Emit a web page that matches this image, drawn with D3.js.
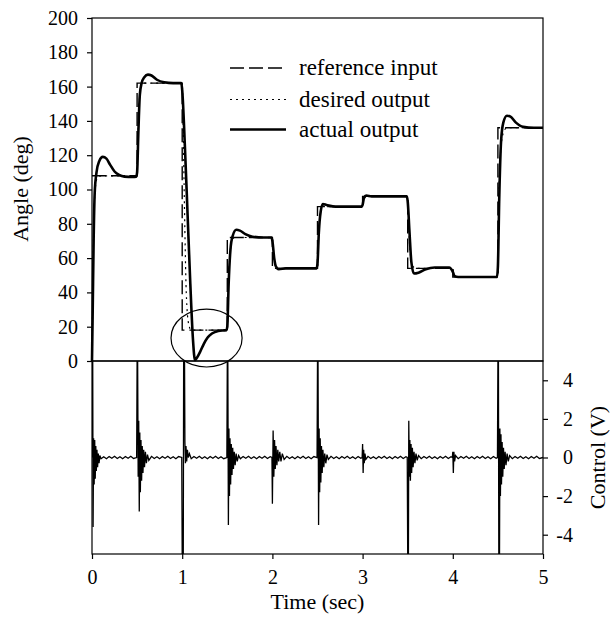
<!DOCTYPE html>
<html>
<head>
<meta charset="utf-8">
<script src="https://cdn.jsdelivr.net/npm/d3@7"></script>
<style>
  body { margin: 0; background: #fff; }
  text { font-family: "Liberation Serif", "Times New Roman", serif; fill: #000; }
</style>
</head>
<body>
<svg id="chart" width="615" height="624"></svg>
<script>
// values
const timeTicks = [0, 1, 2, 3, 4, 5]
const angleTicks = [0, 20, 40, 60, 80, 100, 120, 140, 160, 180, 200]
const controlTicks = [-4, -2, 0, 2, 4]
const legendLabels = ["reference input", "desired output", "actual output"]

// step reference [time, angle]
const refInput = [[0,108],[0.5,162],[1,18],[1.5,72],[2,54],[2.5,90],[3,96],[3.5,54],[4,49],[4.5,136],[5,136]]

const desiredOutput = [[0,0],[0.01,45],[0.02,80],[0.035,100],[0.06,107],[0.1,108],[0.5,108],[0.51,130],[0.525,152],[0.545,160],[0.58,162],
  [1.0,162],[1.01,140],[1.025,90],[1.045,40],[1.07,22],[1.1,18],[1.5,18],[1.51,40],[1.53,62],[1.55,70],[1.58,72],
  [2.0,72],[2.01,64],[2.03,56],[2.06,54],[2.5,54],[2.51,70],[2.53,85],[2.56,90],[3.0,90],[3.01,93],[3.03,95.5],[3.06,96],
  [3.5,96],[3.51,80],[3.53,62],[3.56,55],[3.6,54],[4.0,54],[4.01,51],[4.04,49],[4.5,49],[4.51,90],[4.53,122],[4.56,133],[4.6,136],[5,136]]

const actualOutput = [[0,0],[0.008,30],[0.018,70],[0.03,98],[0.05,110],[0.08,116.5],[0.12,119],[0.16,118],[0.2,114.5],[0.25,110.5],[0.3,108.5],[0.36,107.5],[0.45,107.3],[0.49,107.5],
  [0.5,110],[0.515,135],[0.53,155],[0.55,162],[0.58,165.5],[0.62,167],[0.66,166.5],[0.72,164],[0.8,162.5],[0.9,162],[0.99,162],
  [1.0,158],[1.03,125],[1.06,85],[1.09,45],[1.12,12],[1.142,0.5],[1.165,2],[1.2,5.5],[1.24,10],[1.28,13.5],[1.33,16],[1.4,17.5],[1.49,18],
  [1.5,20],[1.515,45],[1.535,65],[1.56,73],[1.6,76.5],[1.64,76],[1.7,74],[1.78,72.5],[1.9,72],[1.99,72],
  [2.0,70],[2.02,60],[2.04,55],[2.07,53.5],[2.15,54],[2.49,54],
  [2.5,57],[2.515,75],[2.535,87],[2.56,91.5],[2.6,91],[2.7,90],[2.99,90],
  [3.0,91],[3.015,95],[3.04,96.5],[3.1,96],[3.49,96],
  [3.5,93],[3.52,75],[3.54,58],[3.57,51],[3.62,51.5],[3.7,53.5],[3.8,54.5],[3.96,54.5],
  [4.0,52],[4.02,49.5],[4.06,49],[4.49,49],
  [4.5,55],[4.515,95],[4.535,128],[4.56,139],[4.6,143],[4.64,142.5],[4.7,139],[4.78,136.5],[4.9,136],[5,136]]

// control voltage [time, volts]
const control = [
  [0,0],[0.003,5],[0.008,5],[0.012,-3.6],[0.018,1.0],[0.024,-1.4],[0.03,0.9],[0.036,-1.1],[0.042,0.6],[0.048,-0.7],[0.055,0.4],[0.062,-0.5],[0.07,0.2],[0.078,-0.3],[0.087,0.1],[0.1,-0.06],[0.13,0.04],[0.16,-0.06],[0.19,0.05],[0.22,-0.04],[0.25,0.06],[0.28,-0.05],[0.31,0.04],[0.34,-0.06],[0.37,0.05],[0.4,-0.04],[0.43,0.06],[0.46,-0.05],[0.495,0],
  [0.5,5],[0.506,5],[0.512,-1.0],[0.518,1.9],[0.524,-2.8],[0.53,1.3],[0.536,-1.8],[0.543,0.9],[0.55,-1.2],[0.557,0.6],[0.565,-0.8],[0.573,0.4],[0.582,-0.5],[0.592,0.3],[0.603,-0.3],[0.615,0.15],[0.63,-0.15],[0.66,0.06],[0.69,-0.05],[0.72,0.04],[0.75,-0.06],[0.78,0.05],[0.81,-0.04],[0.84,0.06],[0.87,-0.05],[0.9,0.04],[0.93,-0.06],[0.96,0.05],[0.995,0],
  [1.0,-5],[1.012,-5],[1.016,5],[1.026,5],[1.03,0.8],[1.036,-0.3],[1.042,0.6],[1.05,-0.2],[1.058,0.4],[1.068,0],[1.08,0.2],[1.1,-0.06],[1.13,0.05],[1.16,-0.04],[1.19,0.06],[1.22,-0.05],[1.25,0.04],[1.28,-0.06],[1.31,0.05],[1.34,-0.04],[1.37,0.06],[1.4,-0.05],[1.43,0.04],[1.46,-0.06],[1.495,0],
  [1.5,5],[1.506,5],[1.512,-3.5],[1.518,1.5],[1.524,-2.0],[1.53,1.0],[1.537,-1.4],[1.544,0.7],[1.552,-0.9],[1.56,0.5],[1.568,-0.6],[1.577,0.3],[1.587,-0.4],[1.598,0.2],[1.61,-0.2],[1.625,0.1],[1.645,-0.06],[1.675,0.05],[1.705,-0.04],[1.735,0.06],[1.765,-0.05],[1.795,0.04],[1.825,-0.06],[1.855,0.05],[1.885,-0.04],[1.915,0.06],[1.945,-0.05],[1.975,0.04],[1.995,0],
  [2.0,-2.4],[2.008,1.4],[2.016,-1.0],[2.024,0.9],[2.032,-0.6],[2.04,0.6],[2.05,-0.4],[2.06,0.4],[2.07,-0.2],[2.082,0.3],[2.095,-0.2],[2.11,0.2],[2.13,-0.1],[2.16,0.06],[2.19,-0.05],[2.22,0.04],[2.25,-0.06],[2.28,0.05],[2.31,-0.04],[2.34,0.06],[2.37,-0.05],[2.4,0.04],[2.43,-0.06],[2.46,0.05],[2.495,0],
  [2.5,5],[2.506,5],[2.512,-3.5],[2.518,1.5],[2.524,-1.8],[2.53,1.0],[2.537,-1.3],[2.544,0.6],[2.552,-0.8],[2.56,0.4],[2.57,-0.5],[2.58,0.2],[2.592,-0.3],[2.605,0.15],[2.62,-0.1],[2.65,0.06],[2.68,-0.05],[2.71,0.04],[2.74,-0.06],[2.77,0.05],[2.8,-0.04],[2.83,0.06],[2.86,-0.05],[2.89,0.04],[2.92,-0.06],[2.95,0.05],[2.98,-0.04],[2.995,0],
  [3.0,0.7],[3.006,-0.8],[3.012,0.4],[3.018,-0.3],[3.026,0.2],[3.036,-0.1],[3.06,0.06],[3.09,-0.05],[3.12,0.04],[3.15,-0.06],[3.18,0.05],[3.21,-0.04],[3.24,0.06],[3.27,-0.05],[3.3,0.04],[3.33,-0.06],[3.36,0.05],[3.39,-0.04],[3.42,0.06],[3.45,-0.05],[3.48,0.04],[3.495,0],
  [3.5,-5],[3.508,-5],[3.512,1.9],[3.518,-1.0],[3.524,0.9],[3.53,-1.2],[3.537,0.7],[3.544,-0.8],[3.552,0.5],[3.56,-0.5],[3.57,0.3],[3.58,-0.3],[3.592,0.2],[3.605,-0.15],[3.62,0.1],[3.65,-0.06],[3.68,0.05],[3.71,-0.04],[3.74,0.06],[3.77,-0.05],[3.8,0.04],[3.83,-0.06],[3.86,0.05],[3.89,-0.04],[3.92,0.06],[3.95,-0.05],[3.98,0.04],[3.995,0],
  [4.0,0.3],[4.006,-0.8],[4.012,0.3],[4.02,-0.2],[4.03,0.1],[4.06,-0.06],[4.09,0.05],[4.12,-0.04],[4.15,0.06],[4.18,-0.05],[4.21,0.04],[4.24,-0.06],[4.27,0.05],[4.3,-0.04],[4.33,0.06],[4.36,-0.05],[4.39,0.04],[4.42,-0.06],[4.45,0.05],[4.48,-0.04],[4.495,0],
  [4.5,5],[4.506,5],[4.51,-5],[4.518,-5],[4.522,1.5],[4.528,-2.0],[4.534,1.2],[4.54,-1.4],[4.547,0.8],[4.554,-1.0],[4.562,0.5],[4.57,-0.6],[4.58,0.3],[4.59,-0.4],[4.602,0.2],[4.615,-0.2],[4.63,0.1],[4.66,-0.06],[4.69,0.05],[4.72,-0.04],[4.75,0.06],[4.78,-0.05],[4.81,0.04],[4.84,-0.06],[4.87,0.05],[4.9,-0.04],[4.93,0.06],[4.96,-0.05],[5,0]
]

// circled region in data units: centre time, centre angle, half-width (s), half-height (deg)
const highlight = { t: 1.27, a: 13.4, dt: 0.394, da: 16.9 }

const svg = d3.select("#chart")
const plotLeft = 92, plotRight = 543, plotTop = 18, plotMid = 361, plotBottom = 554

const x = d3.scaleLinear().domain([0, 5]).range([plotLeft, plotRight])
const yAngle = d3.scaleLinear().domain([0, 200]).range([plotMid, plotTop])
const yCtrl = d3.scaleLinear().domain([-5, 5]).range([plotBottom, plotMid])

// frames
svg.append("rect").attr("x", plotLeft).attr("y", plotTop).attr("width", plotRight - plotLeft).attr("height", plotMid - plotTop)
  .attr("fill", "none").attr("stroke", "#000").attr("stroke-width", 1.2)
svg.append("rect").attr("x", plotLeft).attr("y", plotMid).attr("width", plotRight - plotLeft).attr("height", plotBottom - plotMid)
  .attr("fill", "none").attr("stroke", "#000").attr("stroke-width", 1.2)

// axes
let yAxis = svg.append("g").attr("transform", `translate(${plotLeft},0)`)
  .call(d3.axisLeft(yAngle).tickValues(angleTicks).tickSize(5).tickPadding(9).tickFormat(d => String(d)))
let cAxis = svg.append("g").attr("transform", `translate(${plotRight},0)`)
  .call(d3.axisRight(yCtrl).tickValues(controlTicks).tickSize(5).tickPadding(8).tickFormat(d => String(d)))
cAxis.selectAll("text").attr("text-anchor", "end").attr("x", 30)
let xAxis = svg.append("g").attr("transform", `translate(0,${plotBottom})`)
  .call(d3.axisBottom(x).tickValues(timeTicks).tickSize(5).tickPadding(11).tickFormat(d => String(d)))

for (let g of [yAxis, cAxis, xAxis]) {
  g.select(".domain").remove()
  g.selectAll("line").attr("stroke", "#000").attr("stroke-width", 1.2)
  g.selectAll("text").style("font-family", '"Liberation Serif", serif').style("font-size", "20px").attr("fill", "#000")
}

// axis titles
svg.append("text").attr("transform", "translate(28,189) rotate(-90)").attr("text-anchor", "middle")
  .style("font-size", "22px").text("Angle (deg)")
svg.append("text").attr("transform", `translate(605,${yCtrl(0)}) rotate(-90)`).attr("text-anchor", "middle")
  .style("font-size", "22px").text("Control (V)")
svg.append("text").attr("x", x(2.5)).attr("y", 609).attr("text-anchor", "middle")
  .style("font-size", "22px").text("Time (sec)")

// clip for the lower plot
svg.append("clipPath").attr("id", "ctrlClip").append("rect")
  .attr("x", plotLeft).attr("y", plotMid).attr("width", plotRight - plotLeft).attr("height", plotBottom - plotMid)

let ctrlLine = d3.line().x(d => x(d[0])).y(d => yCtrl(d[1]))
svg.append("path").datum(control).attr("d", ctrlLine).attr("clip-path", "url(#ctrlClip)")
  .attr("fill", "none").attr("stroke", "#000").attr("stroke-width", 1.3)

// upper plot lines
let stepLine = d3.line().x(d => x(d[0])).y(d => yAngle(d[1])).curve(d3.curveStepAfter)
let smoothLine = d3.line().x(d => x(d[0])).y(d => yAngle(d[1])).curve(d3.curveMonotoneX)

svg.append("path").datum(refInput).attr("d", stepLine)
  .attr("fill", "none").attr("stroke", "#000").attr("stroke-width", 1.4).attr("stroke-dasharray", "14,5")
svg.append("path").datum(desiredOutput).attr("d", smoothLine)
  .attr("fill", "none").attr("stroke", "#000").attr("stroke-width", 1.2).attr("stroke-dasharray", "2,4")
svg.append("path").datum(actualOutput).attr("d", smoothLine)
  .attr("fill", "none").attr("stroke", "#000").attr("stroke-width", 2.6).attr("stroke-linejoin", "round")

// circled region
svg.append("ellipse")
  .attr("cx", x(highlight.t)).attr("cy", yAngle(highlight.a))
  .attr("rx", x(highlight.t + highlight.dt) - x(highlight.t))
  .attr("ry", yAngle(0) - yAngle(highlight.da))
  .attr("fill", "none").attr("stroke", "#000").attr("stroke-width", 1.2)

// legend
let legendStyles = [
  { dash: "14,5", width: 1.4 },
  { dash: "2,4", width: 1.2 },
  { dash: null, width: 2.6 }
]
let legendRows = [68, 99.5, 129.5]
let legend = svg.append("g")
legendLabels.forEach((label, i) => {
  let ly = legendRows[i]
  legend.append("line").attr("x1", 230).attr("x2", 286).attr("y1", ly).attr("y2", ly)
    .attr("stroke", "#000").attr("stroke-width", legendStyles[i].width)
    .attr("stroke-dasharray", legendStyles[i].dash)
  legend.append("text").attr("x", 299).attr("y", ly).attr("dy", "0.32em")
    .style("font-size", "23px").text(label)
})
</script>
</body>
</html>
